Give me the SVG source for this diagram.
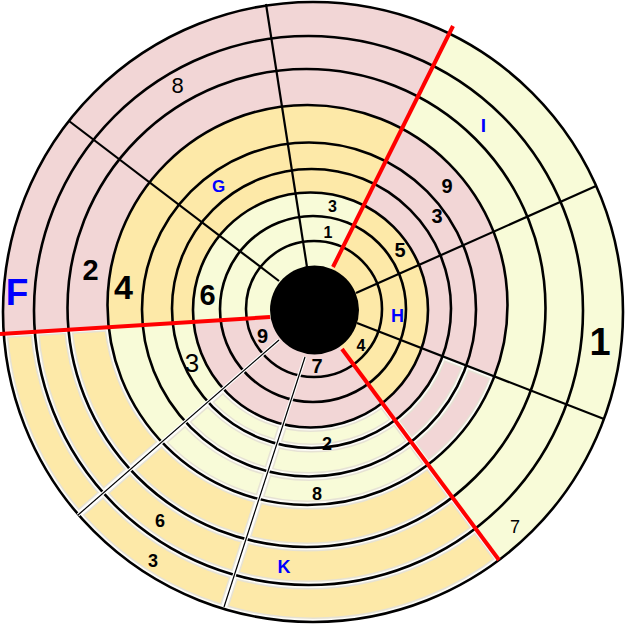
<svg xmlns="http://www.w3.org/2000/svg" xmlns:xlink="http://www.w3.org/1999/xlink" width="625" height="640" viewBox="0 0 625 640">
<style>
.ring{fill:none;stroke:#000;stroke-width:2.6}
.rad{stroke:#000;stroke-width:2.2}
.thinhalo{stroke:#fff;stroke-width:3.5}
.thin{stroke:#000;stroke-width:1.2}
.red{stroke:#f00;stroke-width:4}
.h1{fill:none;stroke:#e6e2d4;stroke-width:9}
.h2{fill:none;stroke:#fdfcf7;stroke-width:6}
.pk{fill:#F2D6D6}.or{fill:#FDE9A8}.ly{fill:#F8FBD8}
text{font-family:"Liberation Sans",Arial,sans-serif;text-anchor:middle;fill:#000}
.b{font-weight:bold}
.blue{fill:#0000ff}
</style>
<defs>
<clipPath id="t1"><polygon points="309.3,314.5 -300,352.9 -300,-300 615.4,-300"/></clipPath>
<clipPath id="t2"><polygon points="311.1,309.3 615.4,-300 1000,-300 1000,1000 834.8,1000"/></clipPath>
<clipPath id="t3"><polygon points="315.6,314.1 834.8,1000 -300,1000 -300,352.9"/></clipPath>
<clipPath id="wAB"><polygon points="308.5,304.7 1000,565.7 1000,1000 834.8,1000"/></clipPath>
<clipPath id="wBD"><polygon points="312.9,310.5 834.8,1000 -478.8,1000"/></clipPath>
<clipPath id="wDE"><polygon points="308.2,314.6 -478.8,1000 -1000,1000 -1000,397"/></clipPath>
<clipPath id="a39"><path clip-rule="evenodd" d="M3 312a310 310 0 1 0 620 0a310 310 0 1 0 -620 0ZM193 310a117.5 117.5 0 1 0 235 0a117.5 117.5 0 1 0 -235 0Z"/></clipPath>
<clipPath id="a69"><path clip-rule="evenodd" d="M3 312a310 310 0 1 0 620 0a310 310 0 1 0 -620 0ZM107.5 305a200 200 0 1 0 400 0a200 200 0 1 0 -400 0Z"/></clipPath>
<clipPath id="a46"><path clip-rule="evenodd" d="M107.5 305a200 200 0 1 0 400 0a200 200 0 1 0 -400 0ZM172 308.5a139.5 139.5 0 1 0 279 0a139.5 139.5 0 1 0 -279 0Z"/></clipPath>
<g id="hl">
<circle cx="314" cy="309" r="68"/>
<circle cx="313" cy="309" r="93"/>
<circle cx="310.5" cy="310" r="117.5"/>
<circle cx="311.5" cy="308.5" r="139.5"/>
<circle cx="309" cy="309.5" r="167"/>
<circle cx="307.5" cy="305" r="200"/>
<circle cx="306.5" cy="308" r="239"/>
<circle cx="308.5" cy="310.5" r="274.5"/>
<circle cx="313" cy="312" r="310"/>
<line x1="357" y1="323" x2="604" y2="419"/>
<line x1="342" y1="349" x2="499" y2="560"/>
<line x1="305" y1="357" x2="224" y2="607"/>
<line x1="279" y1="340" x2="78" y2="515"/>
<line x1="0" y1="334" x2="270" y2="317"/>
</g>
</defs>

<g id="fills">
<g clip-path="url(#t1)">
<circle class="pk" cx="313" cy="312" r="310"/>
<circle class="or" cx="307.5" cy="305" r="200"/>
<circle class="ly" cx="310.5" cy="310" r="117.5"/>
</g>
<g clip-path="url(#t2)">
<circle class="ly" cx="313" cy="312" r="310"/>
<circle class="pk" cx="307.5" cy="305" r="200"/>
<circle class="or" cx="310.5" cy="310" r="117.5"/>
</g>
<g clip-path="url(#t3)">
<circle class="or" cx="313" cy="312" r="310"/>
<circle class="ly" cx="307.5" cy="305" r="200"/>
<circle class="pk" cx="310.5" cy="310" r="117.5"/>
</g>
</g>

<g id="cell-borders">
<g clip-path="url(#wBD)"><g clip-path="url(#a39)"><use xlink:href="#hl" class="h1"/><use xlink:href="#hl" class="h2"/></g></g>
<g clip-path="url(#wDE)"><g clip-path="url(#a69)"><use xlink:href="#hl" class="h1"/><use xlink:href="#hl" class="h2"/></g></g>
<g clip-path="url(#wAB)"><g clip-path="url(#a46)"><use xlink:href="#hl" class="h1"/><use xlink:href="#hl" class="h2"/></g></g>
</g>

<g id="rings">
<circle class="ring" cx="314" cy="309" r="68"/>
<circle class="ring" cx="313" cy="309" r="93"/>
<circle class="ring" cx="310.5" cy="310" r="117.5"/>
<circle class="ring" cx="311.5" cy="308.5" r="139.5"/>
<circle class="ring" cx="309" cy="309.5" r="167"/>
<circle class="ring" cx="307.5" cy="305" r="200"/>
<circle class="ring" cx="306.5" cy="308" r="239"/>
<circle class="ring" cx="308.5" cy="310.5" r="274.5"/>
<circle class="ring" cx="313" cy="312" r="310"/>
</g>

<g id="connectors">
<line class="rad" x1="357" y1="323" x2="604" y2="419"/>
<line class="rad" x1="356" y1="293" x2="596" y2="186"/>
<line class="rad" x1="266" y1="4" x2="307" y2="267"/>
<line class="rad" x1="69" y1="121" x2="279" y2="281"/>
<line class="thinhalo" x1="305" y1="357" x2="224" y2="607"/>
<line class="thinhalo" x1="279" y1="340" x2="78" y2="515"/>
<line class="thin" x1="305" y1="357" x2="224" y2="607"/>
<line class="thin" x1="279" y1="340" x2="78" y2="515"/>
<line class="red" x1="342" y1="349" x2="499" y2="560"/>
<line class="red" x1="0" y1="334" x2="270" y2="317"/>
<line class="red" x1="333" y1="267" x2="453" y2="26"/>
</g>

<g id="hub"><circle cx="314.5" cy="310" r="44.5" fill="#000"/></g>

<g id="labels">
<text class="b blue" x="17" y="305" font-size="37">F</text>
<text class="b" x="90.5" y="280" font-size="29">2</text>
<text class="b" x="123.5" y="299" font-size="34">4</text>
<text class="b" x="207.5" y="305" font-size="29">6</text>
<text x="177.5" y="93" font-size="22">8</text>
<text class="b blue" x="218.5" y="192" font-size="17">G</text>
<text class="b" x="332.5" y="212" font-size="16">3</text>
<text class="b" x="328" y="238" font-size="16">1</text>
<text class="b blue" x="483.5" y="132" font-size="19">I</text>
<text class="b" x="447" y="193" font-size="20">9</text>
<text class="b" x="437" y="223" font-size="20">3</text>
<text class="b" x="400" y="257" font-size="20">5</text>
<text class="b blue" x="397.5" y="322" font-size="18">H</text>
<text class="b" x="600" y="355" font-size="38">1</text>
<text class="b" x="361" y="351" font-size="16">4</text>
<text x="515" y="533" font-size="18">7</text>
<text class="b" x="327" y="450" font-size="18">2</text>
<text class="b" x="317" y="500" font-size="18">8</text>
<text class="b" x="317" y="373" font-size="20">7</text>
<text class="b" x="262.5" y="343" font-size="20">9</text>
<text x="192" y="372" font-size="26">3</text>
<text class="b blue" x="284" y="573" font-size="18">K</text>
<text class="b" x="160" y="527" font-size="18">6</text>
<text class="b" x="153" y="567" font-size="18">3</text>
</g>
</svg>
